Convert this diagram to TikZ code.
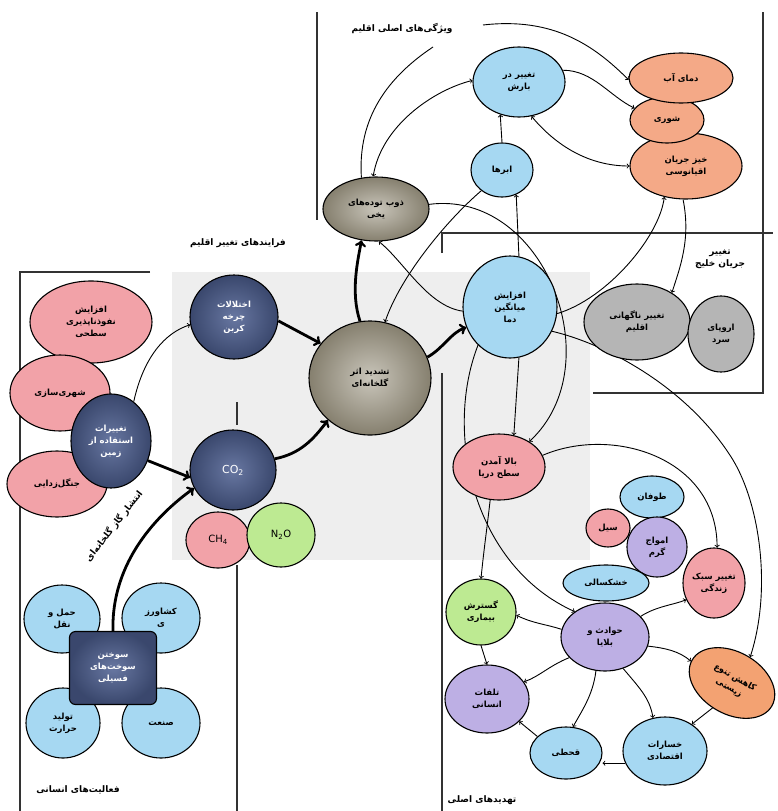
\documentclass[tikz,border=0pt]{standalone}
\usepackage{fontspec}
\usepackage{tikz}
\usetikzlibrary{shapes,arrows,positioning,calc}
\setmainfont{DejaVu Sans}
\newfontfamily\arabicfont[Script=Arabic]{DejaVu Sans}
\TeXXeTstate=1
\newcommand{\fa}[1]{{\arabicfont\beginR#1\endR}}
\definecolor{skyc}{HTML}{A6D8F2}
\definecolor{navyc}{HTML}{4D5F91}
\definecolor{pinkc}{HTML}{F2A2A8}
\definecolor{salmonc}{HTML}{F4A987}
\definecolor{khakic}{HTML}{9D9682}
\definecolor{greyc}{HTML}{B5B5B5}
\definecolor{lilacc}{HTML}{BDAFE4}
\definecolor{limec}{HTML}{BDEA92}
\definecolor{orangec}{HTML}{F3A272}
\definecolor{bgc}{HTML}{EEEEEE}
\pgfdeclarelayer{back}
\pgfdeclarelayer{wires}
\pgfsetlayers{back,wires,main}
\tikzset{
  blob/.style={ellipse, draw=black, line width=1.1pt, inner sep=0pt, align=center,
    font=\fontsize{8.5}{12}\selectfont\bfseries},
  skyblob/.style={blob, fill=skyc},
  pinkblob/.style={blob, fill=pinkc},
  salmonblob/.style={blob, fill=salmonc},
  greyblob/.style={blob, fill=greyc},
  lilacblob/.style={blob, fill=lilacc},
  limeblob/.style={blob, fill=limec},
  orangeblob/.style={blob, fill=orangec},
  navyblob/.style={blob, inner color=navyc!85!white, outer color=navyc!75!black, text=white},
  khakiblob/.style={blob, inner color=khakic!55!white, outer color=khakic!85!black},
  wire/.style={line width=0.9pt},
  link/.style={wire, ->},
  fatlink/.style={->, line width=2.8pt},
  frameline/.style={line width=1.3pt, black!80},
  heading/.style={font=\fontsize{9}{12}\selectfont\bfseries, align=center},
}
\begin{document}
\begin{tikzpicture}[x=1pt, y=-1pt]
    \useasboundingbox (0,0) rectangle (777,811);

    % main features of the climate
    \node[heading] (vizhegi) at (402,29) {\fa{ویژگی‌های اصلی اقلیم}};
    \node[skyblob, minimum width=92, minimum height=70] (barsh) at (519,82) {\fa{تغییر در}\\\fa{بارش}};
    \node[salmonblob, minimum width=112, minimum height=66] (khiz) at (686,166) {\fa{خیز جریان}\\\fa{اقیانوسی}};
    \node[salmonblob, minimum width=74, minimum height=46] (shori) at (667,120) {\fa{شوری}};
    \node[salmonblob, minimum width=104, minimum height=50] (damayab) at (681,78) {\fa{دمای آب}};
    \node[skyblob, minimum width=62, minimum height=54] (abrha) at (502,170) {\fa{ابرها}};
    \node[khakiblob, minimum width=106, minimum height=64] (zob) at (376,209) {\fa{ذوب توده‌های}\\\fa{یخی}};

    % gulf stream
    \node[skyblob, minimum width=94, minimum height=102] (afzayesh) at (510,307) {\fa{افزایش}\\\fa{میانگین}\\\fa{دما}};
    \node[heading] (khalij) at (720,259) {\fa{تغییر}\\\fa{جریان خلیج}};
    \node[greyblob, minimum width=106, minimum height=76] (nagahani) at (637,322) {\fa{تغییر ناگهانی}\\\fa{اقلیم}};
    \node[greyblob, minimum width=66, minimum height=76] (oroopa) at (721,334) {\fa{اروپای}\\\fa{سرد}};

    % climate change processes
    \node[heading] (farayand) at (238,243) {\fa{فرایندهای تغییر اقلیم}};
    \node[khakiblob, minimum width=122, minimum height=114] (tashdid) at (370,378) {\fa{تشدید اثر}\\\fa{گلخانه‌ای}};
    \node[navyblob, minimum width=88, minimum height=84] (ekhtelal) at (234,317) {\fa{اختلالات}\\\fa{چرخه}\\\fa{کربن}};
    \node[navyblob, minimum width=86, minimum height=80, font=\fontsize{11}{13}\selectfont] (co2) at (233,470) {CO\textsubscript{2}};
    \node[pinkblob, minimum width=64, minimum height=56, font=\fontsize{10}{12}\selectfont] (ch4) at (218,540) {CH\textsubscript{4}};
    \node[limeblob, minimum width=68, minimum height=64, font=\fontsize{10}{12}\selectfont] (n2o) at (281,535) {N\textsubscript{2}O};

    % human activities
    \node[pinkblob, minimum width=122, minimum height=82] (nofooz) at (91,322) {\fa{افزایش}\\\fa{نفوذناپذیری}\\\fa{سطحی}};
    \node[pinkblob, minimum width=100, minimum height=76] (shahri) at (60,393) {\fa{شهری‌سازی}};
    \node[pinkblob, minimum width=100, minimum height=66] (jangal) at (57,484) {\fa{جنگل‌زدایی}};
    \node[navyblob, minimum width=80, minimum height=94] (zamin) at (111,441) {\fa{تغییرات}\\\fa{استفاده از}\\\fa{زمین}};
    \node[heading, rotate=52] (enteshar) at (114,526) {\fa{انتشار گاز گلخانه‌ای}};
    \node[skyblob, minimum width=76, minimum height=68] (haml) at (62,619) {\fa{حمل و}\\\fa{نقل}};
    \node[skyblob, minimum width=78, minimum height=70] (keshavarzi) at (161,618) {\fa{کشاورز}\\\fa{ی}};
    \node[skyblob, minimum width=74, minimum height=70] (tolid) at (63,723) {\fa{تولید}\\\fa{حرارت}};
    \node[skyblob, minimum width=78, minimum height=70] (sanat) at (161,723) {\fa{صنعت}};
    \node[navyblob, rectangle, rounded corners=6pt, minimum width=87, minimum height=73] (sookht) at (113,668) {\fa{سوختن}\\\fa{سوخت‌های}\\\fa{فسیلی}};
    \node[heading] (faaliat) at (78,790) {\fa{فعالیت‌های انسانی}};

    % main threats
    \node[pinkblob, minimum width=92, minimum height=66] (bala) at (499,467) {\fa{بالا آمدن}\\\fa{سطح دریا}};
    \node[skyblob, minimum width=64, minimum height=42] (toofan) at (652,497) {\fa{طوفان}};
    \node[pinkblob, minimum width=44, minimum height=38] (seil) at (608,528) {\fa{سیل}};
    \node[lilacblob, minimum width=60, minimum height=60] (amvaj) at (657,547) {\fa{امواج}\\\fa{گرم}};
    \node[pinkblob, minimum width=62, minimum height=70] (sabk) at (714,583) {\fa{تغییر سبک}\\\fa{زندگی}};
    \node[skyblob, minimum width=86, minimum height=36] (khoshk) at (606,583) {\fa{خشکسالی}};
    \node[limeblob, minimum width=70, minimum height=66] (gostaresh) at (481,612) {\fa{گسترش}\\\fa{بیماری}};
    \node[lilacblob, minimum width=88, minimum height=68] (havades) at (605,637) {\fa{حوادث و}\\\fa{بلایا}};
    \node[orangeblob, minimum width=92, minimum height=62, rotate=-30] (kahesh) at (732,683) {\fa{کاهش تنوع}\\\fa{زیستی}};
    \node[lilacblob, minimum width=84, minimum height=68] (talafat) at (487,699) {\fa{تلفات}\\\fa{انسانی}};
    \node[skyblob, minimum width=72, minimum height=52] (ghahti) at (566,753) {\fa{قحطی}};
    \node[skyblob, minimum width=84, minimum height=68] (khesarat) at (665,751) {\fa{خسارات}\\\fa{اقتصادی}};
    \node[heading] (tahdid) at (482,800) {\fa{تهدیدهای اصلی}};

    \begin{pgfonlayer}{back}
        \fill[bgc] (172,272) rectangle (590,560);
        \draw[frameline] (317,12) -- (317,220);
        \draw[frameline] (763,12) -- (763,393) -- (593,393);
        \draw[frameline] (442,253) -- (442,233) -- (773,233);
        \draw[frameline] (442,373) -- (442,811);
        \draw[frameline] (150,272) -- (20,272) -- (20,811);
        \draw[frameline] (237,402) -- (237,425);
        \draw[frameline] (237,565) -- (237,811);
    \end{pgfonlayer}

    \begin{pgfonlayer}{wires}
        % climate features
        \coordinate (gapA) at (433,47);
        \coordinate (gapB) at (483,25);
        \draw[wire] (zob.115) .. controls +(-4,-60) and +(-45,30) .. (gapA);
        \draw[link] (gapB) .. controls +(70,-8) and +(-35,-35) .. (damayab.182);
        \draw[link, <->] (zob.95) .. controls +(8,-50) and +(-40,10) .. (barsh.178);
        \draw[link] (abrha.north) -- (barsh.240);
        \draw[link] (barsh.15) .. controls +(30,0) and +(-25,-12) .. (shori.160);
        \draw[link, <->] (barsh.290) .. controls +(25,30) and +(-40,0) .. (khiz.180);
        \draw[link] (afzayesh.80) -- (abrha.300);
        \draw[link] (abrha.225) .. controls +(-35,30) and +(15,-45) .. (tashdid.75);
        \draw[link] (zob.5) .. controls +(115,-15) and +(83,-77) .. (bala.40);
        \draw[link] (afzayesh.185) .. controls +(-35,-5) and +(25,20) .. (zob.275);
        \draw[link] (afzayesh.-8) .. controls +(50,-15) and +(-5,40) .. (khiz.235);
        \draw[link] (khiz.265) .. controls +(8,40) and +(8,-25) .. (nagahani.40);

        % from the mean temperature to the threats
        \coordinate (bend1) at (733,460);
        \draw[link] (afzayesh.-30) .. controls (610,345) and (690,390) .. (bend1)
            .. controls (760,505) and (772,590) .. (kahesh.85);
        \draw[link] (afzayesh.280) -- (bala.65);
        \draw[link] (afzayesh.230) .. controls +(-35,90) and +(-100,-45) .. (havades.140);
        \draw[link] (bala.255) .. controls +(-4,35) and +(3,-30) .. (gostaresh.north);
        \draw[link] (bala.15) .. controls +(70,-30) and +(0,-90) .. (sabk.85);

        % threats
        \draw[link] (havades.170) .. controls +(-15,-5) and +(15,8) .. (gostaresh.-5);
        \draw[link] (havades.30) .. controls +(15,-10) and +(-12,5) .. (sabk.211);
        \draw[link] (havades.-12) .. controls +(18,2) and +(-12,-10) .. (kahesh.182);
        \draw[link] (kahesh.262) -- (khesarat.45);
        \draw[link] (khesarat.197) -- (khesarat.197 -| ghahti.east);
        \draw[link] (ghahti.150) -- (talafat.-35);
        \draw[link] (havades.210) .. controls +(-20,8) and +(15,-5) .. (talafat.25);
        \draw[link] (havades.255) .. controls +(-3,25) and +(8,-15) .. (ghahti.75);
        \draw[link] (havades.-60) .. controls +(15,18) and +(-3,-20) .. (khesarat.110);
        \draw[link] (gostaresh.south) -- (talafat.north);

        % processes
        \draw[fatlink] (tashdid.100) .. controls +(-10,-30) and +(-3,18) .. (zob.245);
        \draw[fatlink] (ekhtelal.-5) -- (tashdid.145);
        \draw[fatlink] (co2.15) .. controls +(25,-5) and +(-15,20) .. (tashdid.225);
        \draw[fatlink] (tashdid.20) .. controls +(15,-8) and +(-15,5) .. (afzayesh.205);
        \draw[link] (zamin.60) .. controls +(10,-45) and +(-25,8) .. (ekhtelal.190);
        \draw[fatlink] (zamin.-28) -- (co2.190);
        \draw[fatlink] (sookht.north) .. controls +(-2,-70) and +(-35,25) .. (co2.205);
    \end{pgfonlayer}
\end{tikzpicture}
\end{document}
